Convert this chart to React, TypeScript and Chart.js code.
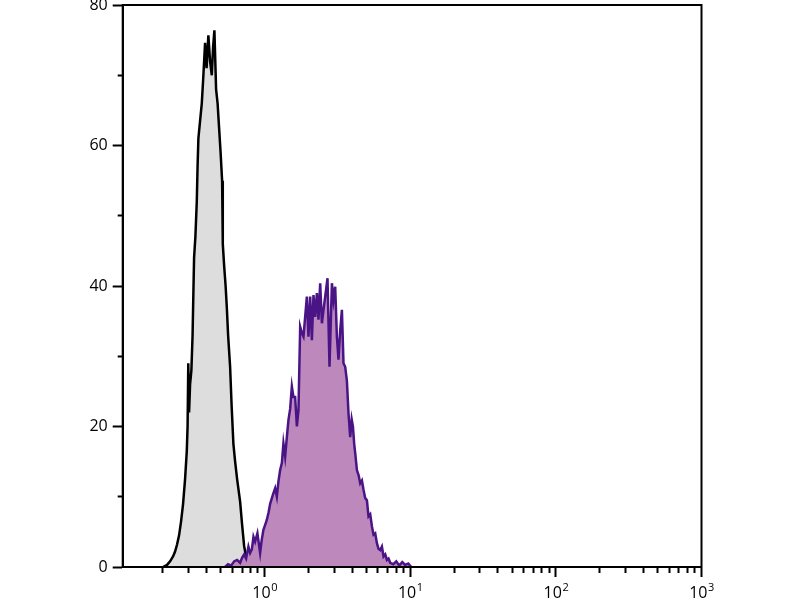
import React, { useEffect, useRef } from 'react';
import { Chart, registerables } from 'chart.js';

Chart.register(...registerables);

// Isotype control (gray) histogram: fluorescence intensity vs. count
const grayX = [
  0.2006, 0.2137, 0.2242, 0.235, 0.2426, 0.2504, 0.2585, 0.2668, 0.2754, 0.2842,
  0.292, 0.2957, 0.299, 0.3028, 0.3076, 0.314, 0.32, 0.3241, 0.3277, 0.3345,
  0.342, 0.3463, 0.3508, 0.3603, 0.3702, 0.3797, 0.39, 0.3994, 0.4108, 0.422,
  0.4336, 0.4426, 0.4519, 0.4642, 0.4753, 0.4867, 0.4984, 0.5104, 0.516, 0.5267,
  0.5395, 0.5498, 0.5612, 0.5793, 0.5932, 0.6104, 0.6271, 0.6471, 0.6786, 0.7005,
  0.7229, 0.7403, 0.758, 0.7825, 0.8076,
];
const grayY = [
  0, 0.3, 0.8, 1.5, 2.2, 3.2, 4.5, 6.5, 9, 12.5,
  16.5, 20, 29, 22, 26, 28, 33, 39, 44, 47,
  52, 57, 61, 63.5, 66, 70, 74.6, 71, 75.7, 72,
  70, 74, 76.4, 68, 66, 62.5, 59, 55, 46, 43,
  40, 37, 33, 28.5, 23, 17.5, 15, 12.5, 9.3, 6,
  3, 1.8, 0.8, 0.3, 0,
];

// Stained sample (purple) histogram
const purpleX = [
  0.535, 0.561, 0.589, 0.617, 0.647, 0.679, 0.7, 0.723, 0.746, 0.774,
  0.795, 0.817, 0.838, 0.86, 0.892, 0.91, 0.931, 0.954, 0.981, 1.008,
  1.035, 1.065, 1.091, 1.121, 1.149, 1.181, 1.213, 1.244, 1.278, 1.313,
  1.346, 1.383, 1.421, 1.457, 1.497, 1.538, 1.577, 1.62, 1.665, 1.707,
  1.754, 1.802, 1.848, 1.898, 1.95, 2.0, 2.055, 2.111, 2.165, 2.224,
  2.285, 2.343, 2.407, 2.473, 2.536, 2.605, 2.702, 2.789, 2.897, 2.971,
  3.052, 3.135, 3.215, 3.303, 3.393, 3.48, 3.575, 3.672, 3.766, 3.869,
  3.962, 4.039, 4.122, 4.188, 4.302, 4.426, 4.533, 4.656, 4.775, 4.905,
  5.039, 5.168, 5.309, 5.454, 5.594, 5.746, 5.902, 6.054, 6.22, 6.389,
  6.553, 6.732, 6.916, 7.094, 7.286, 7.641, 8.014, 8.403, 8.81, 9.24,
  9.69, 10.16,
];
const purpleY = [
  0, 0.4, 0.2, 0.8, 1.0, 0.6, 1.3, 1.8, 1.2, 2.9,
  2.0, 2.5, 4.3, 3.6, 4.8, 3.5, 2.0, 3.8, 5.3, 6.0,
  6.7, 7.8, 9.0, 9.8, 10.5, 11.2, 10.0, 12.2, 13.8, 14.8,
  17.6, 15.7, 18.5, 20.9, 22.5, 25.7, 24.2, 24.2, 20.0, 22.3,
  34.2, 33.3, 32.8, 35.6, 38.5, 32.8, 38.5, 32.3, 38.7, 35.6,
  39.0, 35.2, 40.4, 34.7, 36.6, 38.5, 41.1, 28.5, 40.4, 38.0,
  39.9, 32.8, 29.5, 33.7, 36.6, 29.0, 28.5, 26.5, 21.9, 18.5,
  21.0, 20.0, 17.5, 16.2, 13.8, 13.0, 11.9, 12.3, 11.0, 9.8,
  9.5, 7.2, 7.5, 5.8, 4.6, 4.8, 3.4, 2.6, 2.4, 2.9,
  1.5, 1.8, 1.0, 1.2, 0.6, 0.4, 0.8, 0.2, 0.7, 0.3,
  0.5, 0,
];

// Axis ticks
const xMin = 0.106;
const xMax = 1000;
const xMajorTicks = [1, 10, 100, 1000];
const xTickBase = '10';
const xTickExponents = ['0', '1', '2', '3'];
const xMinorTicks = [
  0.2, 0.3, 0.4, 0.5, 0.6, 0.7, 0.8, 0.9,
  2, 3, 4, 5, 6, 7, 8, 9,
  20, 30, 40, 50, 60, 70, 80, 90,
  200, 300, 400, 500, 600, 700, 800, 900,
];
const yTicks = [0, 10, 20, 30, 40, 50, 60, 70, 80];
const yLabeledTicks = [0, 20, 40, 60, 80];

const FONT = '"Open Sans", "DejaVu Sans", sans-serif';

const framePlugin = {
  id: 'frameAndLabels',
  afterDatasetsDraw(chart: any) {
    const { ctx, chartArea: a } = chart;
    ctx.save();
    ctx.strokeStyle = '#000';
    ctx.lineWidth = 2;
    ctx.strokeRect(a.left, a.top, a.right - a.left, a.bottom - a.top);
    ctx.restore();
  },
  afterDraw(chart: any) {
    const { ctx } = chart;
    const xs = chart.scales.x;
    const baseY = xs.top + 31;
    ctx.save();
    ctx.fillStyle = '#000';
    ctx.textAlign = 'left';
    ctx.textBaseline = 'alphabetic';
    xMajorTicks.forEach((v, i) => {
      const px = xs.getPixelForValue(v);
      ctx.font = `16px ${FONT}`;
      const wb = ctx.measureText(xTickBase).width;
      ctx.font = `11px ${FONT}`;
      const we = ctx.measureText(xTickExponents[i]).width;
      const start = px - (wb + we) / 2;
      ctx.font = `16px ${FONT}`;
      ctx.fillText(xTickBase, start, baseY);
      ctx.font = `11px ${FONT}`;
      ctx.fillText(xTickExponents[i], start + wb + 0.5, baseY - 7);
    });
    ctx.restore();
  },
};

export default function App() {
  const canvasRef = useRef<HTMLCanvasElement | null>(null);

  useEffect(() => {
    if (!canvasRef.current) return;
    const chart = new Chart(canvasRef.current, {
      type: 'line',
      data: {
        datasets: [
          {
            label: 'Stained',
            data: purpleX.map((x, i) => ({ x, y: purpleY[i] })),
            borderColor: '#4A1486',
            backgroundColor: '#BD89BD',
            borderWidth: 2.5,
            pointRadius: 0,
            tension: 0,
            fill: 'origin',
            order: 0,
          },
          {
            label: 'Isotype control',
            data: grayX.map((x, i) => ({ x, y: grayY[i] })),
            borderColor: '#000000',
            backgroundColor: '#DDDDDD',
            borderWidth: 2.5,
            pointRadius: 0,
            tension: 0,
            fill: 'origin',
            order: 1,
          },
        ],
      },
      options: {
        animation: false,
        responsive: false,
        maintainAspectRatio: false,
        layout: { padding: { left: 0, top: 5, right: 98.5, bottom: 0 } },
        plugins: {
          legend: { display: false },
          tooltip: { enabled: false },
        },
        scales: {
          x: {
            type: 'logarithmic',
            min: xMin,
            max: xMax,
            afterBuildTicks: (scale: any) => {
              scale.ticks = [...xMinorTicks, ...xMajorTicks]
                .sort((a, b) => a - b)
                .map((v) => ({ value: v }));
            },
            afterFit: (scale: any) => {
              scale.height = 33;
              scale.paddingLeft = 0;
              scale.paddingRight = 0;
            },
            ticks: {
              autoSkip: false,
              maxRotation: 0,
              callback: () => '',
              font: { size: 1 },
            },
            grid: {
              drawOnChartArea: false,
              drawTicks: true,
              tickLength: 10,
              tickColor: '#000',
              tickWidth: 2,
              tickBorderDash: (ctx: any) =>
                xMajorTicks.includes(ctx.tick?.value) ? [] : [5, 30],
            },
            border: { display: true, color: '#000', width: 2 },
          },
          y: {
            type: 'linear',
            min: 0,
            max: 80,
            afterBuildTicks: (scale: any) => {
              scale.ticks = yTicks.map((v) => ({ value: v }));
            },
            afterFit: (scale: any) => {
              scale.width = 122.7;
              scale.paddingTop = 0;
              scale.paddingBottom = 0;
            },
            ticks: {
              autoSkip: false,
              padding: 5,
              color: '#000',
              font: { family: FONT, size: 16 },
              callback: (v: any) => (yLabeledTicks.includes(Number(v)) ? String(v) : ''),
            },
            grid: {
              drawOnChartArea: false,
              drawTicks: true,
              tickLength: 10,
              tickColor: '#000',
              tickWidth: 2,
              tickBorderDash: (ctx: any) =>
                yLabeledTicks.includes(ctx.tick?.value) ? [] : [0, 5, 5, 30],
            },
            border: { display: true, color: '#000', width: 2 },
          },
        },
      },
      plugins: [framePlugin],
    });
    return () => chart.destroy();
  }, []);

  return (
    <div style={{ position: 'absolute', left: 0, top: 0, width: 800, height: 600, background: '#fff' }}>
      <canvas ref={canvasRef} width={800} height={600} style={{ display: 'block' }} />
    </div>
  );
}
